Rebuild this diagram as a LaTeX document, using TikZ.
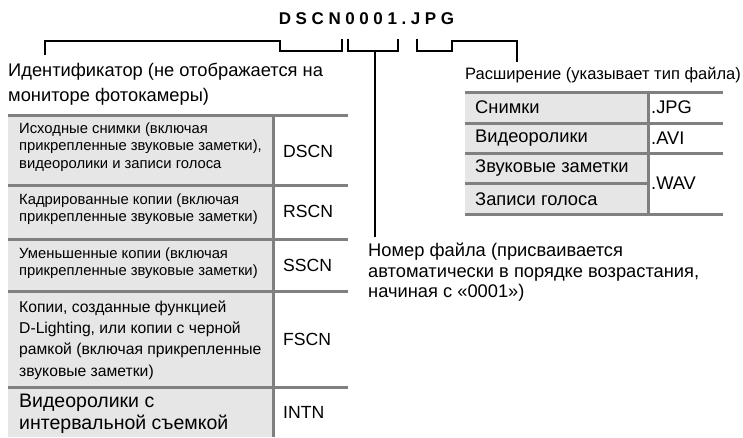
\documentclass[tikz,border=0pt]{standalone}
\usepackage{fontspec}
\setmainfont{Liberation Sans}
\usetikzlibrary{positioning}
\definecolor{rule}{HTML}{808080}
\definecolor{cell}{HTML}{E6E6E6}
\newcommand\lsp{\kern4.6pt}
\tikzset{
  lbl/.style={anchor=west,align=left,inner sep=0pt,font=\fontsize{18.3}{20.5}\selectfont},
  celltxt/.style={anchor=west,align=left,inner sep=0pt,font=\fontsize{14.8}{17.5}\selectfont},
  cellbig/.style={celltxt,font=\fontsize{15.7}{21.3}\selectfont},
  cellbigger/.style={celltxt,font=\fontsize{19.5}{22}\selectfont},
  code/.style={anchor=west,inner sep=0pt,font=\fontsize{17.6}{20}\selectfont},
  hr/.style={draw=rule,line width=3pt},
  br/.style={draw=black,line width=1.8pt},
}
\begin{document}
\begin{tikzpicture}[x=1pt,y=-1pt]
  \useasboundingbox (0,0) rectangle (743,437);
  % file name
  \node[inner sep=0pt,font=\bfseries\fontsize{17}{20}\selectfont] (title) at (366.5,19)
    {D\lsp S\lsp C\lsp N\lsp 0\lsp 0\lsp 0\lsp 1\lsp .\lsp J\lsp P\lsp G};
  % labels
  \node[lbl,font=\fontsize{18.3}{25}\selectfont] (idlbl) at (8,84.5) {Идентификатор (не отображается на\\мониторе фотокамеры)};
  \node[lbl,font=\fontsize{16.5}{20}\selectfont] (extlbl) at (465,75) {Расширение (указывает тип файла)};
  \node[lbl] (numlbl) at (368,272.5) {Номер файла (присваивается\\автоматически в порядке возрастания,\\начиная с «0001»)};
  % brackets
  \coordinate (idend) at (45,55);
  \coordinate (extend) at (517,62);
  \coordinate (numend) at (375,237);
  \draw[br] (idend) -- (45,41) -- (280,41) -- (280,51) -- (342,51) -- (342,39);
  \draw[br] (348,39) -- (348,51) -- (398,51) -- (398,39);
  \draw[br] (375,51) -- (numend);
  \draw[br] (417,39) -- (417,51) -- (452,51) -- (452,41) -- (517,41) -- (extend);
  % prefix table
  \fill[cell] (8,115) rectangle (273,437);
  \foreach \y in {115,185,239,291,387} { \draw[hr] (8,\y) -- (348,\y); }
  \draw[hr] (273,115) -- (273,437);
  \foreach \n/\y/\t in {r1/147/{Исходные снимки (включая\\прикрепленные звуковые заметки),\\видеоролики и записи голоса},
                        r2/209/{Кадрированные копии (включая\\прикрепленные звуковые заметки)},
                        r3/263/{Уменьшенные копии (включая\\прикрепленные звуковые заметки)}} {
    \node[celltxt] (\n) at (19,\y) {\t};
  }
  \node[cellbig] (r4) at (19,340) {Копии, созданные функцией\\D-Lighting, или копии с черной\\рамкой (включая прикрепленные\\звуковые заметки)};
  \node[cellbigger] (r5) at (19,414) {Видеоролики с\\интервальной съемкой};
  \foreach \n/\y/\t in {c1/151/DSCN,c2/211/RSCN,c3/265/SSCN,c4/339/FSCN,c5/412/INTN} {
    \node[code] (\n) at (283,\y) {\t};
  }
  % extension table
  \fill[cell] (465,92) rectangle (648,214);
  \foreach \y in {92,123,153,214} { \draw[hr] (465,\y) -- (723,\y); }
  \draw[hr] (465,183) -- (648,183);
  \draw[hr] (648,92) -- (648,214);
  \foreach \n/\y/\t in {e1/107/Снимки,e2/138/Видеоролики,e3/168/Звуковые заметки,e4/199/Записи голоса} {
    \node[lbl] (\n) at (475,\y) {\t};
  }
  \node[lbl] (x1) at (651,107) {.JPG};
  \node[lbl] (x2) at (651,138) {.AVI};
  \node[lbl] (x3) at (651,183) {.WAV};
\end{tikzpicture}
\end{document}
